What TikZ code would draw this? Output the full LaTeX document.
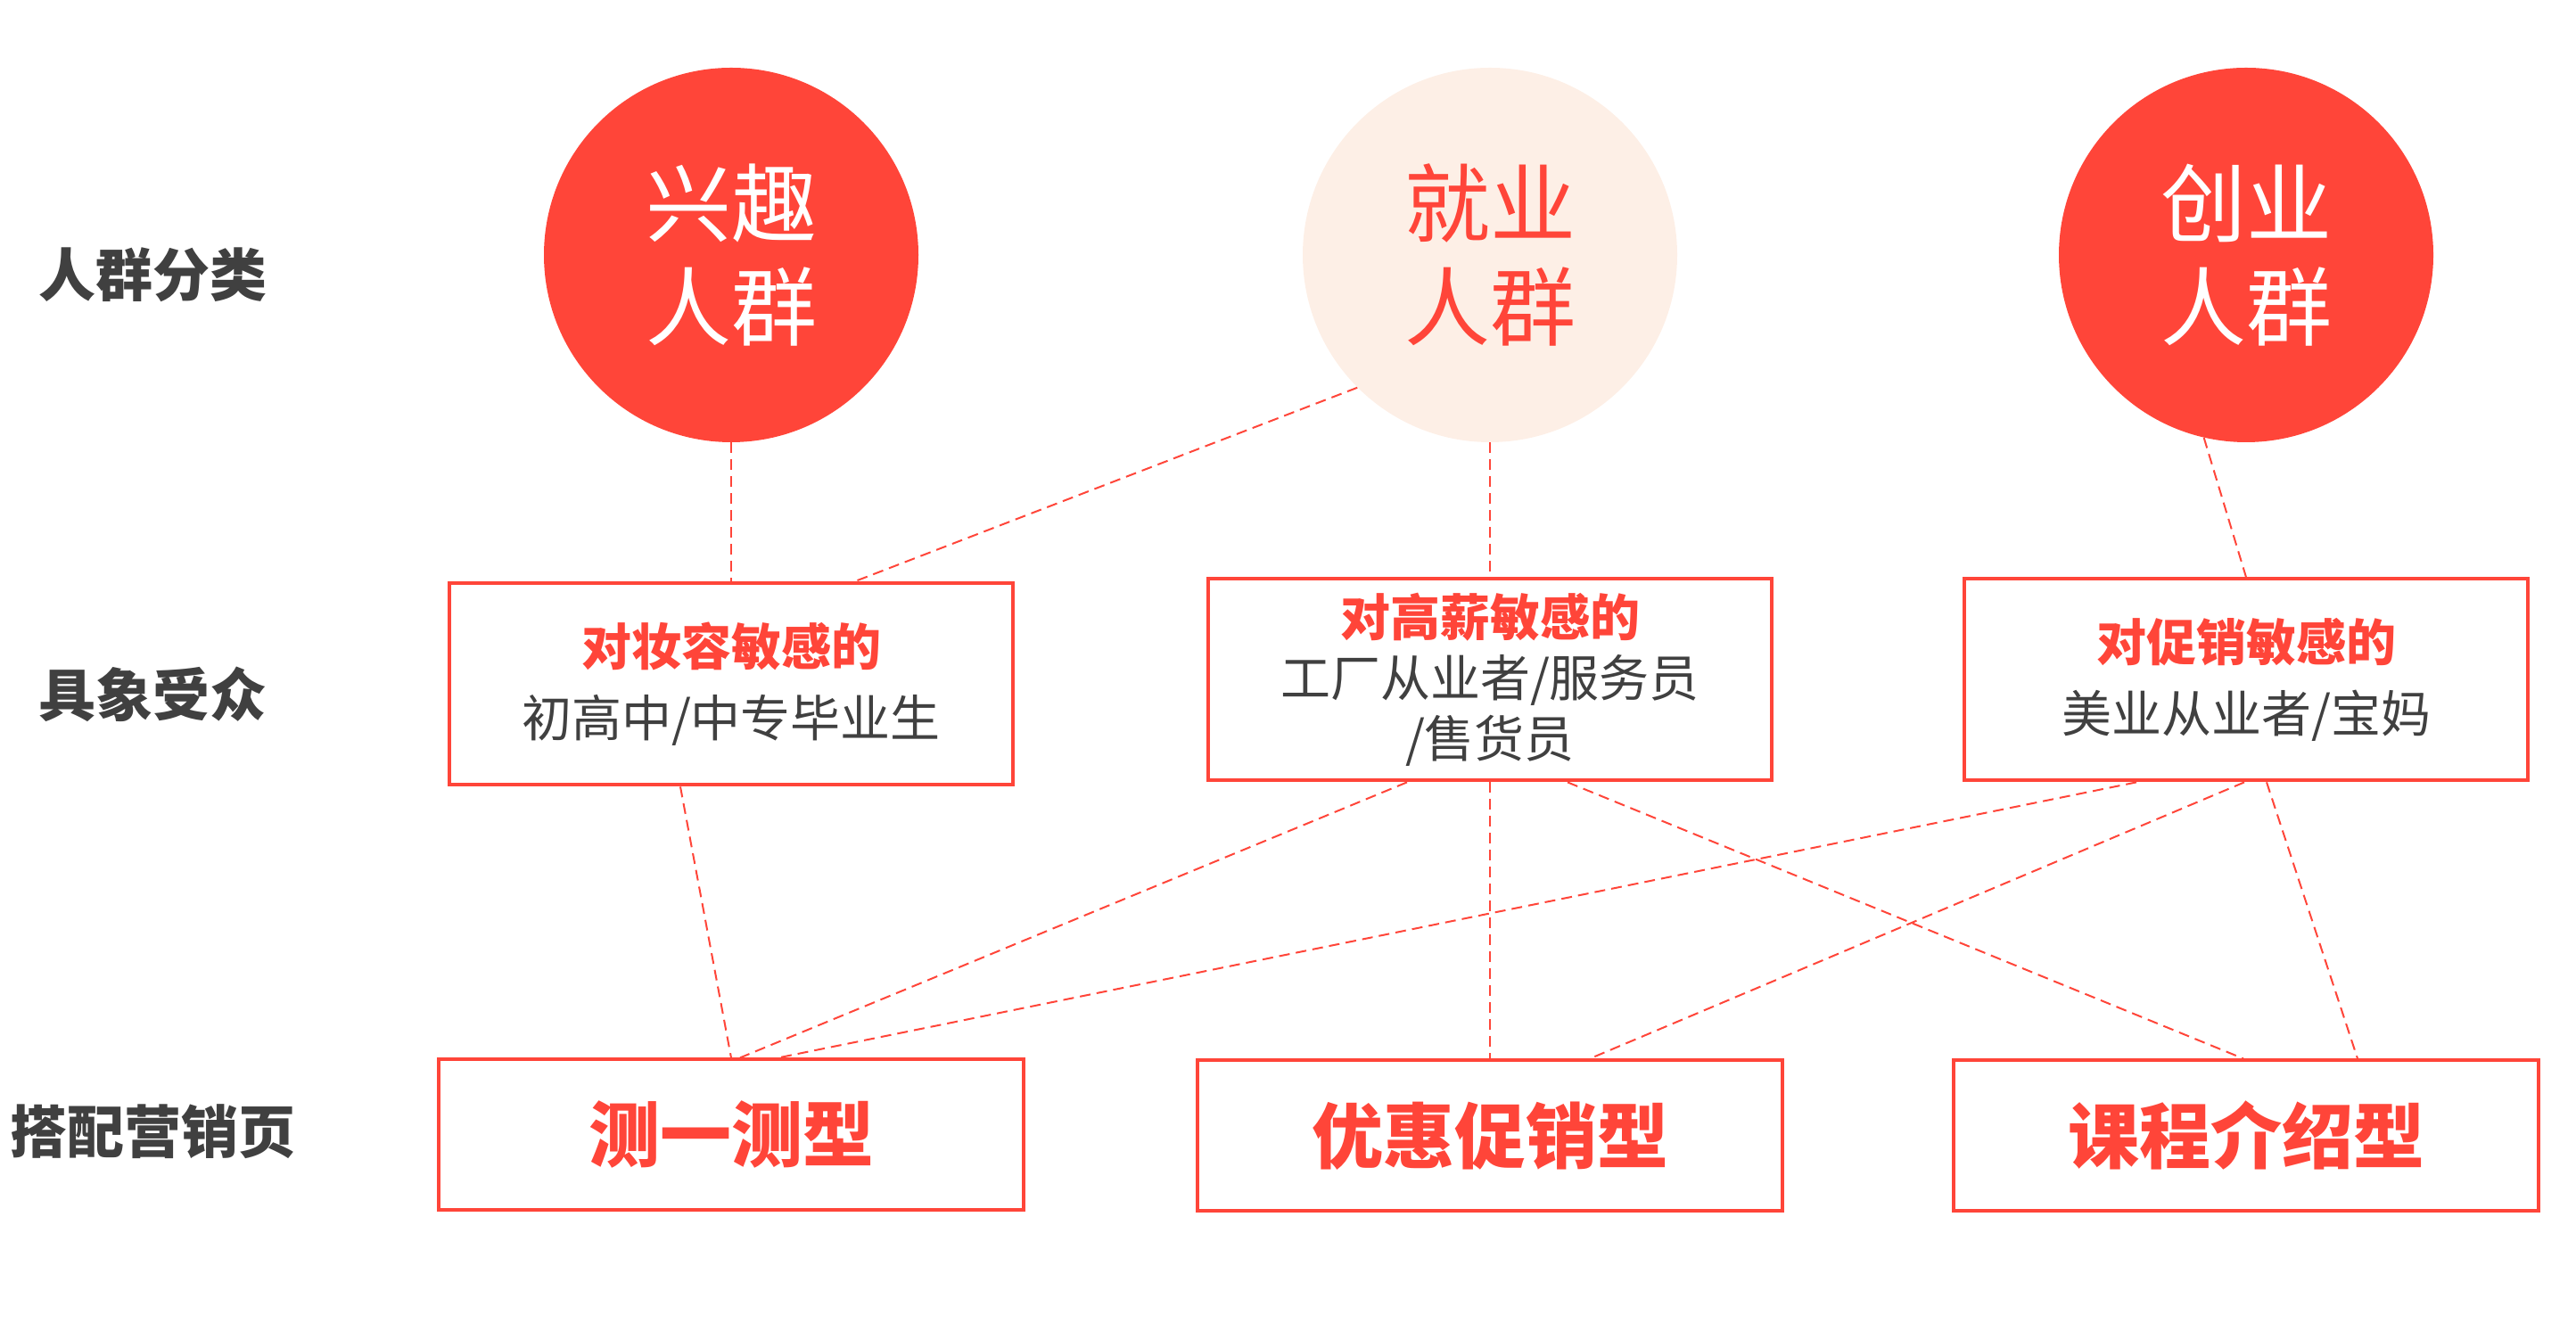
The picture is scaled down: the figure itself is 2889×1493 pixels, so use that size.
\documentclass[tikz,border=0pt]{standalone}
\usepackage{fontspec}
\setmainfont{Noto Sans CJK SC}
\usetikzlibrary{positioning,calc}
\definecolor{brandred}{HTML}{FF4539}
\definecolor{softpeach}{HTML}{FDEFE6}
\definecolor{inkgray}{HTML}{404040}
\tikzset{
  group/.style={circle,inner sep=0pt,minimum size=210pt,fill=brandred,text=white,align=center,
    font=\fontsize{48pt}{58pt}\selectfont},
  audience/.style={draw=brandred,line width=2pt,minimum width=316pt,minimum height=113pt,
    align=center,text=inkgray,font=\fontsize{28pt}{40pt}\selectfont},
  pagebox/.style={draw=brandred,line width=2pt,minimum width=328pt,minimum height=84.5pt,
    text=brandred,font=\fontsize{40pt}{48pt}\selectfont\bfseries},
  rowlabel/.style={text=inkgray,font=\fontsize{32pt}{38pt}\selectfont\bfseries},
  link/.style={brandred,line width=1pt,dash pattern=on 6pt off 3.5pt}
}

\begin{document}
\begin{tikzpicture}[x=0.5pt,y=0.5pt]
  \useasboundingbox (0,0) rectangle (2889,1493);
  % row labels
  \node[rowlabel] (lgroup) at (171,1185) {人群分类};
  \node[rowlabel] (laud) at (171,714) {具象受众};
  \node[rowlabel] (lpage) at (171,224) {搭配营销页};
  % groups
  \node[group] (xingqu) at (820,1207) {兴趣\\人群};
  \node[group,fill=softpeach,text=brandred] (jiuye) at (1671,1207) {就业\\人群};
  \node[group] (chuangye) at (2519,1207) {创业\\人群};
  % audiences
  \node[audience] (mid1) [below=78pt of xingqu]
    {{\color{brandred}\bfseries 对妆容敏感的}\\初高中/中专毕业生};
  \node[audience,font=\fontsize{28pt}{34pt}\selectfont] (mid2) [below=75.5pt of jiuye]
    {{\color{brandred}\bfseries 对高薪敏感的}\\工厂从业者/服务员\\/售货员};
  \node[audience] (mid3) [below=75.5pt of chuangye]
    {{\color{brandred}\bfseries 对促销敏感的}\\美业从业者/宝妈};
  % pages
  \node[pagebox] (bot1) [below=152pt of mid1] {测一测型};
  \node[pagebox] (bot2) [below=155pt of mid2] {优惠促销型};
  \node[pagebox] (bot3) [below=155pt of mid3] {课程介绍型};
  % links
  \draw[link] (xingqu.south) -- (mid1.north);
  \draw[link] (jiuye.225) -- ($(mid1.north)+(138,0)$);
  \draw[link] (jiuye.south) -- (mid2.north);
  \draw[link] (chuangye.257) -- (mid3.north);
  \draw[link] ($(mid1.south)+(-57,0)$) -- (bot1.north);
  \draw[link] ($(mid2.south)+(-93,0)$) -- ($(bot1.north)+(10,0)$);
  \draw[link] (mid2.south) -- (bot2.north);
  \draw[link] ($(mid2.south)+(87,0)$) -- ($(bot3.north)+(-3,0)$);
  \draw[link] ($(mid3.south)+(-123,0)$) -- ($(bot1.north)+(53,0)$);
  \draw[link] ($(mid3.south)+(-2,0)$) -- ($(bot2.north)+(112,0)$);
  \draw[link] ($(mid3.south)+(23,0)$) -- ($(bot3.north)+(125,0)$);
\end{tikzpicture}
\end{document}
